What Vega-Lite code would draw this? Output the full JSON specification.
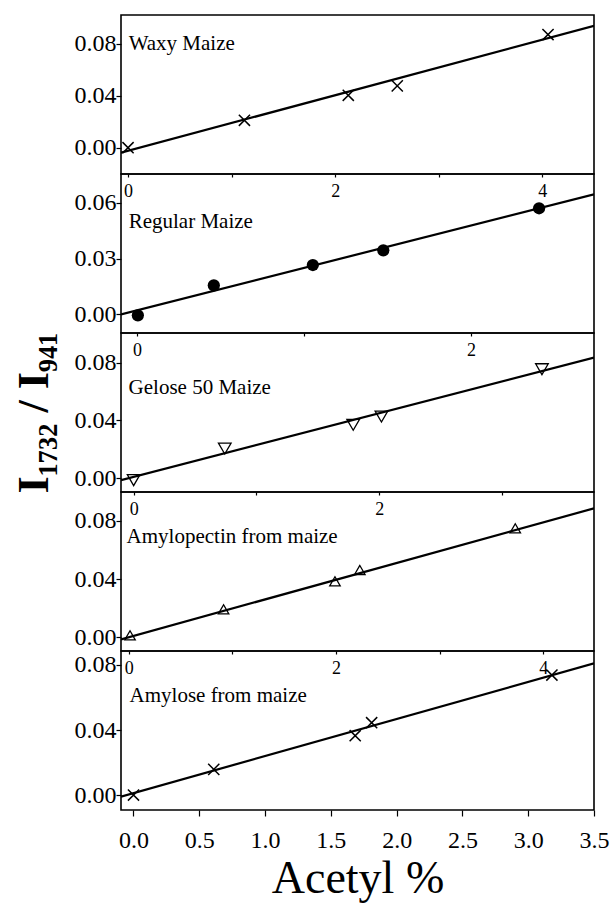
{
  "$schema": "https://vega.github.io/schema/vega-lite/v6.json",
  "background": "white",
  "padding": {"left": 11, "top": 14, "right": 2, "bottom": 4},
  "bounds": "flush",
  "spacing": 0,
  "config": {
    "font": "Liberation Serif",
    "view": {"stroke": "black", "strokeWidth": 1.6},
    "axis": {"grid": false, "domain": false, "labelFont": "Liberation Serif", "titleFont": "Liberation Serif", "labelColor": "black", "tickColor": "black", "titleColor": "black", "tickWidth": 1.2, "labelFlush": false, "labelOverlap": false}
  },
  "datasets": {
    "pts": [
      {"panel": "Waxy", "acetyl": 0.0, "ratio": 0.0},
      {"panel": "Waxy", "acetyl": 1.124, "ratio": 0.0211},
      {"panel": "Waxy", "acetyl": 2.127, "ratio": 0.0403},
      {"panel": "Waxy", "acetyl": 2.6, "ratio": 0.0475},
      {"panel": "Waxy", "acetyl": 4.056, "ratio": 0.087},
      {"panel": "Regular", "acetyl": 0.005, "ratio": -0.0005},
      {"panel": "Regular", "acetyl": 0.46, "ratio": 0.0156},
      {"panel": "Regular", "acetyl": 1.053, "ratio": 0.0265},
      {"panel": "Regular", "acetyl": 1.475, "ratio": 0.0344},
      {"panel": "Regular", "acetyl": 2.408, "ratio": 0.057},
      {"panel": "Gelose", "acetyl": 0.0, "ratio": -0.0012},
      {"panel": "Gelose", "acetyl": 0.742, "ratio": 0.0206},
      {"panel": "Gelose", "acetyl": 1.788, "ratio": 0.037},
      {"panel": "Gelose", "acetyl": 2.018, "ratio": 0.0427},
      {"panel": "Gelose", "acetyl": 3.325, "ratio": 0.0754},
      {"panel": "Amylopectin", "acetyl": 0.012, "ratio": 0.0014},
      {"panel": "Amylopectin", "acetyl": 0.915, "ratio": 0.0192},
      {"panel": "Amylopectin", "acetyl": 1.99, "ratio": 0.0384},
      {"panel": "Amylopectin", "acetyl": 2.23, "ratio": 0.0462},
      {"panel": "Amylopectin", "acetyl": 3.73, "ratio": 0.0748},
      {"panel": "Amylose", "acetyl": 0.0, "ratio": 0.0},
      {"panel": "Amylose", "acetyl": 0.61, "ratio": 0.0158},
      {"panel": "Amylose", "acetyl": 1.685, "ratio": 0.0365},
      {"panel": "Amylose", "acetyl": 1.81, "ratio": 0.0445},
      {"panel": "Amylose", "acetyl": 3.18, "ratio": 0.0738}
    ],
    "fits": [
      {"panel": "Waxy", "acetyl": -0.068, "ratio": -0.0038},
      {"panel": "Waxy", "acetyl": 4.5, "ratio": 0.0937},
      {"panel": "Regular", "acetyl": -0.096, "ratio": 0.0},
      {"panel": "Regular", "acetyl": 2.737, "ratio": 0.0645},
      {"panel": "Gelose", "acetyl": -0.103, "ratio": -0.0012},
      {"panel": "Gelose", "acetyl": 3.749, "ratio": 0.0834},
      {"panel": "Amylopectin", "acetyl": -0.075, "ratio": -0.0014},
      {"panel": "Amylopectin", "acetyl": 4.49, "ratio": 0.0885},
      {"panel": "Amylose", "acetyl": -0.095, "ratio": -0.001},
      {"panel": "Amylose", "acetyl": 3.5, "ratio": 0.081}
    ],
    "names": [
      {"panel": "Waxy", "name": "Waxy Maize"},
      {"panel": "Regular", "name": "Regular Maize"},
      {"panel": "Gelose", "name": "Gelose 50 Maize"},
      {"panel": "Amylopectin", "name": "Amylopectin from maize"},
      {"panel": "Amylose", "name": "Amylose from maize"}
    ]
  },
  "vconcat": [
    {
      "width": 473, "height": 159,
      "layer": [
        {"data": {"name": "fits"}, "transform": [{"filter": "datum.panel == 'Waxy'"}],
         "mark": {"type": "line", "color": "black", "strokeWidth": 2.2, "clip": true},
         "encoding": {
           "x": {"field": "acetyl", "type": "quantitative", "scale": {"domain": [-0.068, 4.5], "nice": false, "zero": false},
                 "axis": {"orient": "bottom", "title": null, "values": [0, 1, 2, 3, 4], "format": "d", "labelExpr": "datum.value % 2 == 0 ? datum.label : ''", "tickSize": 3, "labelFontSize": 18, "labelPadding": 5}},
           "y": {"field": "ratio", "type": "quantitative", "scale": {"domain": [-0.0202, 0.102], "nice": false, "zero": false},
                 "axis": {"title": null, "values": [0, 0.02, 0.04, 0.06, 0.08], "format": ".2f", "labelExpr": "round(datum.value*100) % 4 == 0 ? datum.label : ''", "tickSize": {"condition": {"test": "round(datum.value*100) % 4 == 0", "value": 5}, "value": 3}, "labelFontSize": 24, "labelPadding": 0}}
         }},
        {"data": {"name": "pts"}, "transform": [{"filter": "datum.panel == 'Waxy'"}],
         "mark": {"type": "point", "shape": "M-1,-1L1,1M-1,1L1,-1", "filled": false, "color": "black", "strokeWidth": 1.5, "size": 125, "opacity": 1},
         "encoding": {"x": {"field": "acetyl", "type": "quantitative"}, "y": {"field": "ratio", "type": "quantitative"}}},
        {"data": {"name": "names"}, "transform": [{"filter": "datum.panel == 'Waxy'"}],
         "mark": {"type": "text", "align": "left", "baseline": "alphabetic", "fontSize": 21, "font": "Liberation Serif", "color": "black"},
         "encoding": {"x": {"datum": 0.006, "type": "quantitative"}, "y": {"datum": 0.0752, "type": "quantitative"}, "text": {"field": "name"}}}
      ]
    },
    {
      "width": 473, "height": 159,
      "layer": [
        {"data": {"name": "fits"}, "transform": [{"filter": "datum.panel == 'Regular'"}],
         "mark": {"type": "line", "color": "black", "strokeWidth": 2.2, "clip": true},
         "encoding": {
           "x": {"field": "acetyl", "type": "quantitative", "scale": {"domain": [-0.096, 2.737], "nice": false, "zero": false},
                 "axis": {"orient": "bottom", "title": null, "values": [0, 1, 2], "format": "d", "labelExpr": "datum.value % 2 == 0 ? datum.label : ''", "tickSize": 3, "labelFontSize": 18, "labelPadding": 5}},
           "y": {"field": "ratio", "type": "quantitative", "scale": {"domain": [-0.01, 0.0754], "nice": false, "zero": false},
                 "axis": {"title": null, "values": [0, 0.015, 0.03, 0.045, 0.06], "format": ".2f", "labelExpr": "round(datum.value*1000) % 30 == 0 ? datum.label : ''", "tickSize": {"condition": {"test": "round(datum.value*1000) % 30 == 0", "value": 5}, "value": 3}, "labelFontSize": 24, "labelPadding": 0}}
         }},
        {"data": {"name": "pts"}, "transform": [{"filter": "datum.panel == 'Regular'"}],
         "mark": {"type": "point", "shape": "circle", "filled": true, "color": "black", "size": 150, "opacity": 1},
         "encoding": {"x": {"field": "acetyl", "type": "quantitative"}, "y": {"field": "ratio", "type": "quantitative"}}},
        {"data": {"name": "names"}, "transform": [{"filter": "datum.panel == 'Regular'"}],
         "mark": {"type": "text", "align": "left", "baseline": "alphabetic", "fontSize": 21, "font": "Liberation Serif", "color": "black"},
         "encoding": {"x": {"datum": -0.05, "type": "quantitative"}, "y": {"datum": 0.0466, "type": "quantitative"}, "text": {"field": "name"}}}
      ]
    },
    {
      "width": 473, "height": 159,
      "layer": [
        {"data": {"name": "fits"}, "transform": [{"filter": "datum.panel == 'Gelose'"}],
         "mark": {"type": "line", "color": "black", "strokeWidth": 2.2, "clip": true},
         "encoding": {
           "x": {"field": "acetyl", "type": "quantitative", "scale": {"domain": [-0.103, 3.749], "nice": false, "zero": false},
                 "axis": {"orient": "bottom", "title": null, "values": [0, 1, 2, 3], "format": "d", "labelExpr": "datum.value % 2 == 0 ? datum.label : ''", "tickSize": 3, "labelFontSize": 18, "labelPadding": 5}},
           "y": {"field": "ratio", "type": "quantitative", "scale": {"domain": [-0.0094, 0.1004], "nice": false, "zero": false},
                 "axis": {"title": "I₁₇₃₂ / I₉₄₁", "titleFontSize": 44, "titleFontWeight": "bold", "titlePadding": 18, "values": [0, 0.02, 0.04, 0.06, 0.08], "format": ".2f", "labelExpr": "round(datum.value*100) % 4 == 0 ? datum.label : ''", "tickSize": {"condition": {"test": "round(datum.value*100) % 4 == 0", "value": 5}, "value": 3}, "labelFontSize": 24, "labelPadding": 0}}
         }},
        {"data": {"name": "pts"}, "transform": [{"filter": "datum.panel == 'Gelose'"}],
         "mark": {"type": "point", "shape": "triangle-down", "filled": false, "color": "black", "strokeWidth": 1.3, "size": 160, "opacity": 1},
         "encoding": {"x": {"field": "acetyl", "type": "quantitative"}, "y": {"field": "ratio", "type": "quantitative"}}},
        {"data": {"name": "names"}, "transform": [{"filter": "datum.panel == 'Gelose'"}],
         "mark": {"type": "text", "align": "left", "baseline": "alphabetic", "fontSize": 21, "font": "Liberation Serif", "color": "black"},
         "encoding": {"x": {"datum": -0.041, "type": "quantitative"}, "y": {"datum": 0.0585, "type": "quantitative"}, "text": {"field": "name"}}}
      ]
    },
    {
      "width": 473, "height": 159,
      "layer": [
        {"data": {"name": "fits"}, "transform": [{"filter": "datum.panel == 'Amylopectin'"}],
         "mark": {"type": "line", "color": "black", "strokeWidth": 2.2, "clip": true},
         "encoding": {
           "x": {"field": "acetyl", "type": "quantitative", "scale": {"domain": [-0.075, 4.49], "nice": false, "zero": false},
                 "axis": {"orient": "bottom", "title": null, "values": [0, 1, 2, 3, 4], "format": "d", "labelExpr": "datum.value % 2 == 0 ? datum.label : ''", "tickSize": 3, "labelFontSize": 18, "labelPadding": 5}},
           "y": {"field": "ratio", "type": "quantitative", "scale": {"domain": [-0.0094, 0.0997], "nice": false, "zero": false},
                 "axis": {"title": null, "values": [0, 0.02, 0.04, 0.06, 0.08], "format": ".2f", "labelExpr": "round(datum.value*100) % 4 == 0 ? datum.label : ''", "tickSize": {"condition": {"test": "round(datum.value*100) % 4 == 0", "value": 5}, "value": 3}, "labelFontSize": 24, "labelPadding": 0}}
         }},
        {"data": {"name": "pts"}, "transform": [{"filter": "datum.panel == 'Amylopectin'"}],
         "mark": {"type": "point", "shape": "triangle-up", "filled": false, "color": "black", "strokeWidth": 1.3, "size": 110, "opacity": 1},
         "encoding": {"x": {"field": "acetyl", "type": "quantitative"}, "y": {"field": "ratio", "type": "quantitative"}}},
        {"data": {"name": "names"}, "transform": [{"filter": "datum.panel == 'Amylopectin'"}],
         "mark": {"type": "text", "align": "left", "baseline": "alphabetic", "fontSize": 21, "font": "Liberation Serif", "color": "black"},
         "encoding": {"x": {"datum": -0.021, "type": "quantitative"}, "y": {"datum": 0.0647, "type": "quantitative"}, "text": {"field": "name"}}}
      ]
    },
    {
      "width": 473, "height": 159,
      "layer": [
        {"data": {"name": "fits"}, "transform": [{"filter": "datum.panel == 'Amylose'"}],
         "mark": {"type": "line", "color": "black", "strokeWidth": 2.2, "clip": true},
         "encoding": {
           "x": {"field": "acetyl", "type": "quantitative", "scale": {"domain": [-0.095, 3.5], "nice": false, "zero": false},
                 "axis": {"orient": "bottom", "title": "Acetyl %", "titleFontSize": 46, "titleFontWeight": "normal", "titlePadding": 4, "values": [0, 0.25, 0.5, 0.75, 1, 1.25, 1.5, 1.75, 2, 2.25, 2.5, 2.75, 3, 3.25, 3.5], "labelExpr": "round(datum.value*100) % 50 == 0 ? format(datum.value, '.1f') : ''", "tickSize": {"condition": {"test": "round(datum.value*100) % 50 == 0", "value": 6}, "value": 3}, "labelFontSize": 24, "labelPadding": 12}},
           "y": {"field": "ratio", "type": "quantitative", "scale": {"domain": [-0.0092, 0.0886], "nice": false, "zero": false},
                 "axis": {"title": null, "values": [0, 0.02, 0.04, 0.06, 0.08], "format": ".2f", "labelExpr": "round(datum.value*100) % 4 == 0 ? datum.label : ''", "tickSize": {"condition": {"test": "round(datum.value*100) % 4 == 0", "value": 5}, "value": 3}, "labelFontSize": 24, "labelPadding": 0}}
         }},
        {"data": {"name": "pts"}, "transform": [{"filter": "datum.panel == 'Amylose'"}],
         "mark": {"type": "point", "shape": "M-1,-1L1,1M-1,1L1,-1", "filled": false, "color": "black", "strokeWidth": 1.5, "size": 125, "opacity": 1},
         "encoding": {"x": {"field": "acetyl", "type": "quantitative"}, "y": {"field": "ratio", "type": "quantitative"}}},
        {"data": {"name": "names"}, "transform": [{"filter": "datum.panel == 'Amylose'"}],
         "mark": {"type": "text", "align": "left", "baseline": "alphabetic", "fontSize": 21, "font": "Liberation Serif", "color": "black"},
         "encoding": {"x": {"datum": -0.03, "type": "quantitative"}, "y": {"datum": 0.0572, "type": "quantitative"}, "text": {"field": "name"}}}
      ]
    }
  ]
}
